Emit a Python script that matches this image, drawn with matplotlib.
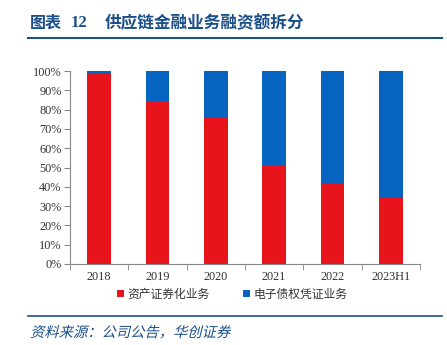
import matplotlib.pyplot as plt
from matplotlib.lines import Line2D
from matplotlib.textpath import TextPath
from matplotlib.patches import PathPatch
from matplotlib.font_manager import FontProperties
from matplotlib.transforms import Affine2D
import numpy as np

# data
years = ['2018', '2019', '2020', '2021', '2022', '2023H1']
abs_share = [98.7, 84.5, 75.6, 51.3, 42.0, 34.2]      # 资产证券化业务
ebc_share = [100 - v for v in abs_share]               # 电子债权凭证业务

RED = '#E8141C'
BLUE = '#0663BF'
NAVY = '#1B4F8A'
W, H, DPI = 447, 345, 100

plt.rcParams['font.family'] = ['Liberation Serif', 'Noto Sans CJK SC']

fig = plt.figure(figsize=(W / DPI, H / DPI), dpi=DPI)
ax = fig.add_axes([70 / W, 1 - 264 / H, 350 / W, 193 / H])

x = np.arange(len(years))
ax.bar(x, abs_share, width=0.41, color=RED, label='资产证券化业务')
ax.bar(x, ebc_share, width=0.41, bottom=abs_share, color=BLUE, label='电子债权凭证业务')

ax.set_xlim(-0.5, len(years) - 0.5)
ax.set_ylim(0, 100)
ax.set_yticks(np.arange(0, 101, 10))
ax.set_yticklabels([f'{v}%' for v in range(0, 101, 10)])
ax.set_xticks(x)
ax.set_xticklabels(years)
ax.set_xticks(np.arange(-0.5, len(years), 1), minor=True)
ax.tick_params(axis='x', which='major', length=0, labelsize=8.8, pad=5, colors='#333333')
ax.tick_params(axis='x', which='minor', length=4, direction='out', color='#888888')
ax.tick_params(axis='y', length=4, labelsize=8.8, colors='#333333', pad=2)
ax.tick_params(axis='y', color='#888888')

for s in ['top', 'right']:
    ax.spines[s].set_visible(False)
for s in ['left', 'bottom']:
    ax.spines[s].set_color('#888888')

leg = ax.legend(loc='center', bbox_to_anchor=((232 - 70) / 350, (264 - 294) / 193), ncol=2,
                frameon=False, prop={'family': ['Noto Sans CJK SC'], 'size': 8.5},
                handlelength=0.6, handleheight=0.6, handletextpad=0.3, columnspacing=2.8)
for t in leg.get_texts():
    t.set_color('#333333')

# header
fig.text(30 / W, 1 - 23 / H, '图表', fontsize=11.5, fontweight='bold', color=NAVY,
         va='center', ha='left', family=['Noto Sans CJK SC'])
fig.text(71 / W, 1 - 23 / H, '12', fontsize=12, fontweight='bold', color=NAVY,
         va='center', ha='left', family=['Liberation Serif'])
fig.text(105 / W, 1 - 23 / H, '供应链金融业务融资额拆分', fontsize=12, fontweight='bold',
         color=NAVY, va='center', ha='left', family=['Noto Sans CJK SC'])
fig.add_artist(Line2D([28 / W, 442 / W], [1 - 38 / H, 1 - 38 / H], color=NAVY, lw=1.5))

# footer with slanted source note
fig.add_artist(Line2D([28 / W, 442 / W], [1 - 316 / H, 1 - 316 / H], color=NAVY, lw=1.2))
src = TextPath((0, 0), '资料来源：公司公告，华创证券',
               prop=FontProperties(family='Noto Sans CJK SC', size=10.3))
tr = Affine2D().skew_deg(14, 0).scale(DPI / 72).translate(30, H - 337)
fig.add_artist(PathPatch(src, transform=tr, facecolor=NAVY, lw=0))

fig.savefig('out.png', dpi=DPI)
